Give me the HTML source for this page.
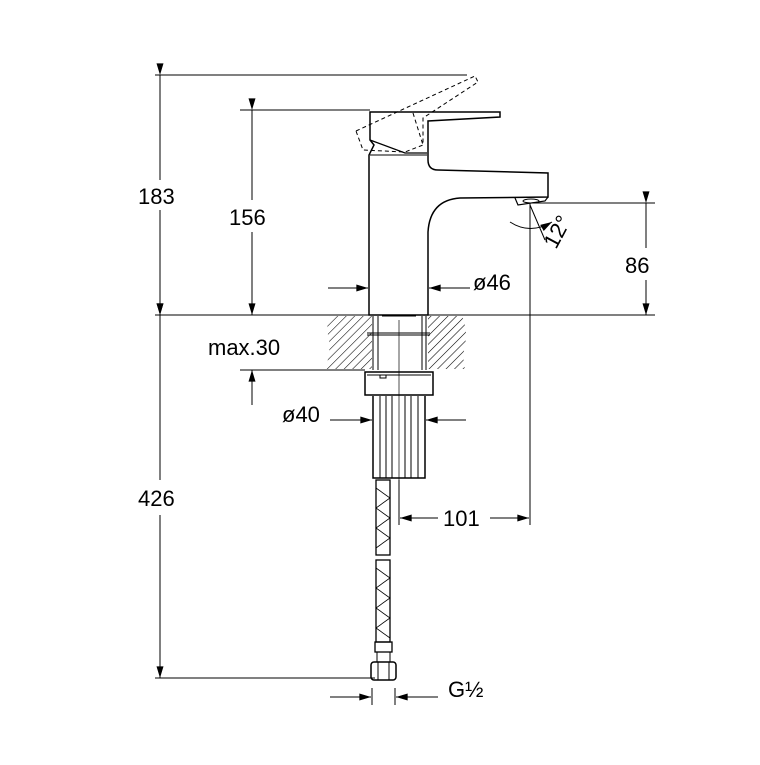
<!DOCTYPE html><html><head><style>body{margin:0;background:#fff}text{font-family:"Liberation Sans",sans-serif;font-size:22px;fill:#000}</style></head><body>
<svg width="760" height="760" viewBox="0 0 760 760" xmlns="http://www.w3.org/2000/svg">
<defs>
<marker id="a" viewBox="0 0 10 6" refX="10" refY="3" markerWidth="18" markerHeight="7" markerUnits="userSpaceOnUse" orient="auto"><path d="M0,0L10,3L0,6z" fill="#000"/></marker>
<pattern id="h" width="6" height="6" patternUnits="userSpaceOnUse" patternTransform="rotate(45)"><line x1="0" y1="0" x2="0" y2="6" stroke="#000" stroke-width="1.1"/></pattern>
</defs>
<g stroke="#000" fill="none" stroke-width="1">
<line x1="155" y1="75" x2="467" y2="75"/>
<line x1="240" y1="110" x2="370" y2="110"/>
<line x1="155" y1="315" x2="655" y2="315"/>
<line x1="527" y1="203" x2="655" y2="203"/>
<line x1="240" y1="370" x2="365" y2="370"/>
<line x1="155" y1="678" x2="375" y2="678"/>
<line x1="530" y1="203" x2="530" y2="525"/>
<line x1="399" y1="480" x2="399" y2="525"/>
<line x1="160" y1="75" x2="160" y2="180" marker-start="url(#a)"/><line x1="160" y1="210" x2="160" y2="315" marker-end="url(#a)"/>
<line x1="252" y1="110" x2="252" y2="200" marker-start="url(#a)"/><line x1="252" y1="232" x2="252" y2="315" marker-end="url(#a)"/>
<line x1="646" y1="203" x2="646" y2="248" marker-start="url(#a)"/><line x1="646" y1="280" x2="646" y2="315" marker-end="url(#a)"/>
<line x1="160" y1="315" x2="160" y2="480" marker-start="url(#a)"/><line x1="160" y1="515" x2="160" y2="678" marker-end="url(#a)"/>
<line x1="252" y1="405" x2="252" y2="370" marker-end="url(#a)"/>
<line x1="328" y1="288" x2="368" y2="288" marker-end="url(#a)"/><line x1="470" y1="288" x2="429" y2="288" marker-end="url(#a)"/>
<line x1="330" y1="420" x2="372" y2="420" marker-end="url(#a)"/><line x1="466" y1="420" x2="426" y2="420" marker-end="url(#a)"/>
<line x1="438" y1="518" x2="400" y2="518" marker-end="url(#a)"/><line x1="490" y1="518" x2="529" y2="518" marker-end="url(#a)"/>
<line x1="330" y1="697" x2="371" y2="697" marker-end="url(#a)"/><line x1="438" y1="697" x2="396" y2="697" marker-end="url(#a)"/>
<line x1="372" y1="688" x2="372" y2="705"/><line x1="395" y1="688" x2="395" y2="705"/>
<path d="M330,316 L372,316 L372,369 L325,369 Q332,350 328,335 Q326,322 330,316z" fill="url(#h)" stroke="none"/>
<path d="M428,316 L462,316 Q468,330 465,345 Q462,358 465,369 L428,369z" fill="url(#h)" stroke="none"/>
<path d="M370,112 L500,112 L500,117 L428,121 L428,160 Q428,170 438,170 L548,173 L548,197 L460,198 Q430,200 428,232 L428,315 L369,315 L369,155 L374,145 L370,140z" stroke-width="1.5"/>
<path d="M370,140 L405,153 L427,153" stroke-width="1.3"/>
<line x1="370" y1="155" x2="427" y2="155"/>
<path d="M515,198 L518,205 L545,201 L548,197" stroke-width="1.2"/>
<ellipse cx="531" cy="201" rx="8" ry="2"/>
<path d="M356,131 L475,76 L478,82 L423,118 L423,145 L405,152 L363,150z" stroke-dasharray="4,3"/>
<path d="M413,113 L423,145" stroke-dasharray="4,3"/>
<line x1="530" y1="205" x2="545" y2="240"/>
<path d="M510,222 Q530,235 552,222" marker-end="url(#a)"/>
<line x1="373" y1="316" x2="373" y2="370"/><line x1="378" y1="316" x2="378" y2="370"/>
<line x1="422" y1="316" x2="422" y2="370"/><line x1="426" y1="316" x2="426" y2="370"/>
<line x1="382" y1="316" x2="416" y2="316"/>
<line x1="367" y1="333" x2="430" y2="333"/><line x1="367" y1="335" x2="430" y2="335"/>
<line x1="399" y1="320" x2="399" y2="480" stroke-width="0.7"/>
<rect x="365" y="372" width="68" height="23" stroke-width="1.5"/>
<line x1="367" y1="375" x2="431" y2="375"/>
<rect x="380" y="375" width="6" height="3"/>
<path d="M373,396 L373,478 L425,478 L425,396" stroke-width="1.5"/>
<line x1="380" y1="396" x2="380" y2="478"/><line x1="386" y1="396" x2="386" y2="478"/><line x1="392" y1="396" x2="392" y2="478"/><line x1="405" y1="396" x2="405" y2="478"/><line x1="411" y1="396" x2="411" y2="478"/><line x1="418" y1="396" x2="418" y2="478"/>
<rect x="376" y="480" width="14" height="75" stroke-width="1.3"/>
<rect x="376" y="560" width="14" height="82" stroke-width="1.3"/>
<path d="M376,488 L390,498 L376,508 L390,518 L376,528 L390,538 L376,548 M376,568 L390,578 L376,588 L390,598 L376,608 L390,618 L376,628 L390,638" stroke-width="0.8"/>
<rect x="375" y="642" width="17" height="10" stroke-width="1.3"/>
<rect x="377" y="652" width="13" height="10"/>
<rect x="371" y="662" width="25" height="18" rx="3" stroke-width="1.5"/>
<line x1="378" y1="662" x2="378" y2="680"/><line x1="389" y1="662" x2="389" y2="680"/>
</g>
<text x="138" y="204">183</text>
<text x="229" y="225">156</text>
<text x="625" y="273">86</text>
<text x="138" y="506">426</text>
<text x="208" y="355">max.30</text>
<text x="473" y="290">ø46</text>
<text x="282" y="422">ø40</text>
<text x="443" y="526">101</text>
<text x="448" y="697">G½</text>
<text x="0" y="0" transform="translate(556,250) rotate(-62)">12°</text>
</svg></body></html>
